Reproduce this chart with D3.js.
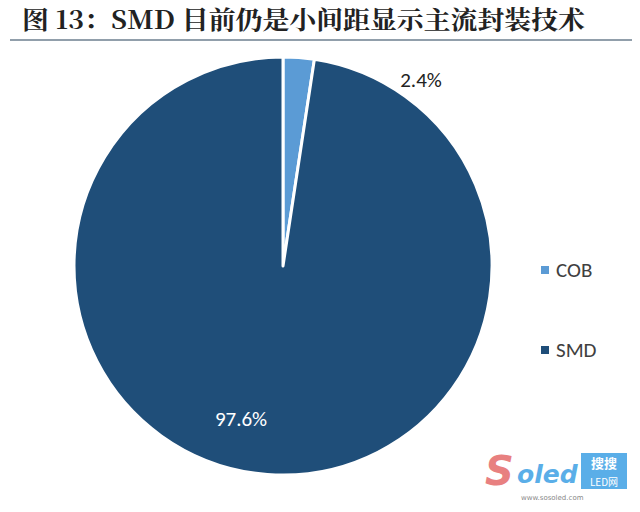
<!DOCTYPE html>
<html><head><meta charset="utf-8">
<script src="https://cdn.jsdelivr.net/npm/d3@7"></script>
<style>body{margin:0;background:#fff}svg{display:block}</style>
</head><body>
<svg id="c" width="640" height="512"></svg>
<script>
const categories = ["COB", "SMD"];
const values = [2.4, 97.6];
const labels = ["2.4%", "97.6%"];
const colors = ["#5B9BD5", "#1F4E79"];

const svg = d3.select("#c");
svg.append("text").attr("x", 22).attr("y", 29)
  .attr("font-family", "'Noto Serif CJK SC','Noto Sans CJK SC',serif")
  .attr("font-weight", "bold").attr("font-size", 25).attr("fill", "#222")
  .attr("textLength", 563).attr("lengthAdjust", "spacingAndGlyphs")
  .text("图 13：SMD 目前仍是小间距显示主流封装技术");
svg.append("line").attr("x1", 10).attr("x2", 632).attr("y1", 40).attr("y2", 40)
  .attr("stroke", "#6d7f8f").attr("stroke-width", 1.5);

const cx = 283, cy = 266, r = 209;
const pie = d3.pie().sort(null).value(d => d)(values);
const arc = d3.arc().innerRadius(0).outerRadius(r);
const g = svg.append("g").attr("transform", `translate(${cx},${cy})`);
g.selectAll("path").data(pie).join("path")
  .attr("d", arc).attr("fill", (d, i) => colors[i])
  .attr("stroke", "#fff").attr("stroke-width", 3).attr("stroke-linejoin", "round");

const labelPos = [[421, 87], [241, 426]];
labels.forEach((t, i) => {
  svg.append("text").attr("x", labelPos[i][0]).attr("y", labelPos[i][1])
    .attr("text-anchor", "middle").attr("font-family", "Calibri,Carlito,'Liberation Sans',sans-serif")
    .attr("font-size", 21).attr("fill", i === 0 ? "#222" : "#fff").text(t);
});

const legY = [270, 350];
categories.forEach((c, i) => {
  svg.append("rect").attr("x", 541).attr("y", legY[i] - 4).attr("width", 8).attr("height", 8).attr("fill", colors[i]);
  svg.append("text").attr("x", 556).attr("y", legY[i] + 7)
    .attr("font-family", "Calibri,Carlito,'Liberation Sans',sans-serif")
    .attr("font-size", 21).attr("fill", "#404040").text(c);
});

// watermark
const wm = svg.append("g").attr("transform", "translate(485,445)");
wm.append("text").attr("x", 0).attr("y", 40).attr("font-family", "'DejaVu Sans',sans-serif")
  .attr("font-style", "italic").attr("font-weight", "bold").attr("font-size", 40).attr("fill", "#e88080").text("S");
wm.append("text").attr("x", 32).attr("y", 38).attr("font-family", "'DejaVu Sans',sans-serif")
  .attr("font-style", "italic").attr("font-weight", "bold").attr("font-size", 25).attr("fill", "#5aaee8").text("oled");
wm.append("text").attr("x", 36).attr("y", 55).attr("font-family", "'DejaVu Sans',sans-serif")
  .attr("font-size", 7).attr("fill", "#888").text("www.sosoled.com");
wm.append("rect").attr("x", 96).attr("y", 8).attr("width", 46).attr("height", 36).attr("fill", "#5aaee8");
wm.append("text").attr("x", 119).attr("y", 23).attr("text-anchor", "middle").attr("font-family", "'Noto Sans CJK SC'")
  .attr("font-size", 13).attr("font-weight", "bold").attr("fill", "#fff").text("搜搜");
wm.append("text").attr("x", 119).attr("y", 41).attr("text-anchor", "middle").attr("font-family", "'Noto Sans CJK SC'")
  .attr("font-size", 10).attr("fill", "#fff").text("LED网");
</script>
</body></html>
